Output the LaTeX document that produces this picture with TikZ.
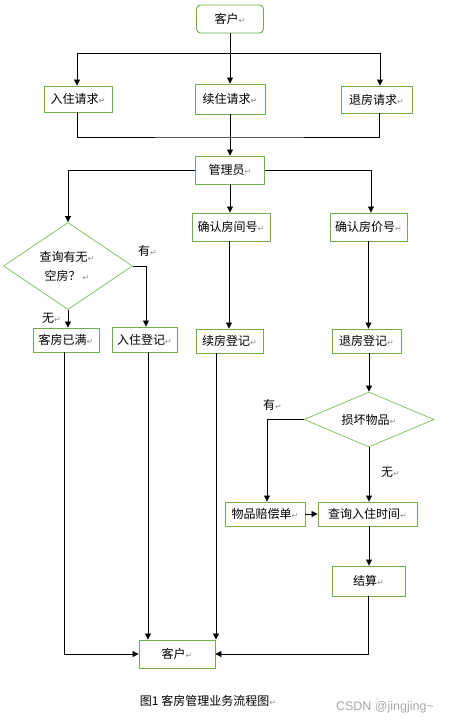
\documentclass[tikz,border=0pt]{standalone}
\usepackage{fontspec}
\setmainfont{Noto Sans CJK SC}
\newfontfamily\dvfont{DejaVu Sans}
\newfontfamily\lsfont{Liberation Sans}
\usetikzlibrary{arrows.meta,shapes.geometric}
\definecolor{boxgreen}{HTML}{70AD47}
\definecolor{diagreen}{HTML}{8CC068}
\definecolor{retgray}{HTML}{909090}
\definecolor{wmgray}{HTML}{A8A8A8}
\newcommand{\rmk}{{\color{retgray}\dvfont\fontsize{8bp}{8bp}\selectfont ↵}}
\tikzset{
  box/.style={draw=boxgreen, line width=0.9bp, inner sep=0pt, fill=white,
    font=\fontsize{12bp}{14bp}\selectfont, text=black},
  dia/.style={diamond, draw=diagreen, line width=0.8bp, inner sep=0pt},
  arr/.style={-{Triangle[width=6bp,length=6bp]}, line width=0.8bp},
  ln/.style={line width=0.8bp},
  lbl/.style={anchor=west, inner sep=0pt, font=\fontsize{12bp}{14bp}\selectfont}
}
\begin{document}
\begin{tikzpicture}[x=1bp,y=-1bp]
\fill[white] (0,0) rectangle (450,724);
\path[use as bounding box] (0,0) rectangle (450,724);
% nodes
\node[box, rounded corners=4bp, minimum width=67bp, minimum height=28bp] (c1) at (230,19) {客户\rmk};
\node[box, minimum width=68bp, minimum height=26bp] (r1) at (78,99) {入住请求\rmk};
\node[box, minimum width=70bp, minimum height=30bp] (r2) at (230,99) {续住请求\rmk};
\node[box, minimum width=71bp, minimum height=27bp] (r3) at (376.5,99.5) {退房请求\rmk};
\node[box, minimum width=69bp, minimum height=28bp] (m) at (230,170) {管理员\rmk};
\node[dia, minimum width=129bp, minimum height=87bp] (d1) at (68,266) {};
\node[align=center, inner sep=0pt, font=\fontsize{12bp}{19bp}\selectfont] (d1t) at (67,266.5) {查询有无\rmk\\空房？\,\rmk};
\node[box, minimum width=78bp, minimum height=28bp] (q1) at (231,227) {确认房间号\rmk};
\node[box, minimum width=77bp, minimum height=28bp] (q2) at (368.5,227) {确认房价号\rmk};
\node[box, minimum width=66bp, minimum height=24bp] (f) at (66,340) {客房已满\rmk};
\node[box, minimum width=65bp, minimum height=25bp] (g) at (144.5,339.5) {入住登记\rmk};
\node[box, minimum width=67bp, minimum height=24bp] (x) at (229.5,341) {续房登记\rmk};
\node[box, minimum width=69bp, minimum height=24bp] (t) at (366.5,341) {退房登记\rmk};
\node[dia, minimum width=130bp, minimum height=55bp] (d2) at (369,419.5) {};
\node[inner sep=0pt, font=\fontsize{12bp}{14bp}\selectfont] (d2t) at (369,419.5) {损坏物品\rmk};
\node[box, minimum width=80bp, minimum height=24bp] (p) at (265,514) {物品赔偿单\rmk};
\node[box, minimum width=99bp, minimum height=24bp] (s) at (367.5,514) {查询入住时间\rmk};
\node[box, minimum width=73bp, minimum height=30bp] (j) at (368.5,581) {结算\rmk};
\node[box, minimum width=76bp, minimum height=28bp] (c2) at (177,654) {客户\rmk};
% labels
\node[lbl] (l1) at (138,251) {有\rmk};
\node[lbl] (l2) at (42,318) {无\rmk};
\node[lbl] (l3) at (263,405) {有\rmk};
\node[lbl] (l4) at (381,472) {无\rmk};
\node[inner sep=0pt, font=\fontsize{12bp}{14bp}\selectfont] (cap) at (208,701) {图1 客房管理业务流程图\rmk};
\node[inner sep=0pt, text=wmgray, font=\lsfont\fontsize{12.5bp}{14bp}\selectfont] (wm) at (385,707) {CSDN @jingjing\textasciitilde};
% connectors
\coordinate (sp) at (230,53);
\coordinate (mg) at (230,137);
\draw[arr] (c1.south) -- (r2.north);
\draw[arr] (sp) -| ([xshift=-1bp]r1.north);
\draw[arr] (sp) -| ([xshift=3.5bp]r3.north);
\draw[ln] ([xshift=-1bp]r1.south) |- (mg) -| ([xshift=3bp]r3.south);
\draw[arr] (r2.south) -- (m.north);
\draw[arr] (m.west) -| (d1.north);
\draw[arr] (m.east) -| ([xshift=2.5bp]q2.north);
\draw[arr] (m.south) -- (m.south |- q1.north);
\draw[arr] ([xshift=-2bp]q1.south) -- ([xshift=-2bp]q1.south |- x.north);
\draw[arr] (q2.south) -- (q2.south |- t.north);
\draw[arr] (d1.east) -| ([xshift=1.5bp]g.north);
\draw[arr] (d1.south) -- (d1.south |- f.north);
\draw[arr] (d2.north |- t.south) -- (d2.north);
\draw[arr] (d2.west) -| ([xshift=2bp]p.north);
\draw[arr] (d2.south) -- (d2.south |- s.north);
\draw[arr] (p.east) -- (s.west);
\draw[arr] (d2.south |- s.south) -- (d2.south |- j.north);
\draw[arr] (j.south) |- (c2.east);
\draw[arr] ([xshift=-2bp]f.south) |- (c2.west);
\draw[arr] ([xshift=3.5bp]g.south) -- ([xshift=3.5bp]g.south |- c2.north);
\draw[arr] ([xshift=-13.5bp]x.south) -- ([xshift=-13.5bp]x.south |- c2.north);
\end{tikzpicture}
\end{document}
